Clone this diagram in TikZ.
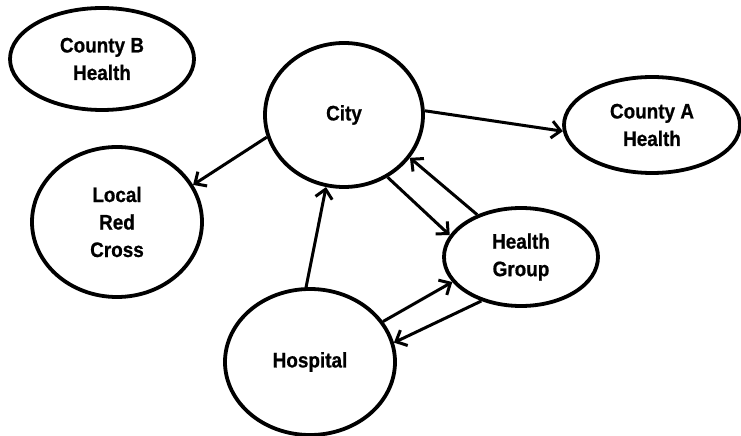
\documentclass[tikz,border=0pt]{standalone}
\usepackage{fontspec}
\setmainfont{Liberation Sans}
\newfontfamily\lblfont[BoldFeatures={FakeStretch=0.9,FakeBold=0.8}]{Liberation Sans}
\usetikzlibrary{shapes.geometric,arrows.meta}
\begin{document}
\begin{tikzpicture}[x=1bp,y=-1bp,
  org/.style={ellipse,draw=black,line width=3.8bp,inner sep=0pt,align=center,
    font=\lblfont\bfseries\fontsize{21bp}{27.5bp}\selectfont},
  link/.style={line width=3bp,-{Straight Barb[length=9bp,width=17bp,line width=3bp]}}]
\useasboundingbox (0,0) rectangle (741,436);
\node[org,minimum width=184bp,minimum height=102bp] (cb) at (102,59) {County B\\Health};
\node[org,minimum width=158bp,minimum height=144bp] (city) at (344,115) {City};
\node[org,minimum width=176bp,minimum height=96bp] (ca) at (652,125) {County A\\Health};
\node[org,minimum width=170bp,minimum height=150bp] (lrc) at (117,222) {Local\\Red\\Cross};
\node[org,minimum width=154bp,minimum height=98bp] (hg) at (521,257) {Health\\Group};
\node[org,minimum width=170bp,minimum height=146bp] (hosp) at (310,362) {Hospital};
\draw[link] (city.3.7) -- (ca.184.5);
\draw[link] (city.196) -- (lrc.26.6);
\draw[link] (city.305.6) -- (hg.163.9);
\draw[link] (hg.136.3) -- (city.327.7);
\draw[link] (hosp.93.9) -- (city.256.9);
\draw[link] (hosp.29) -- (hg.200.6);
\draw[link] (hg.228.3) -- (hosp.13);
\end{tikzpicture}
\end{document}
